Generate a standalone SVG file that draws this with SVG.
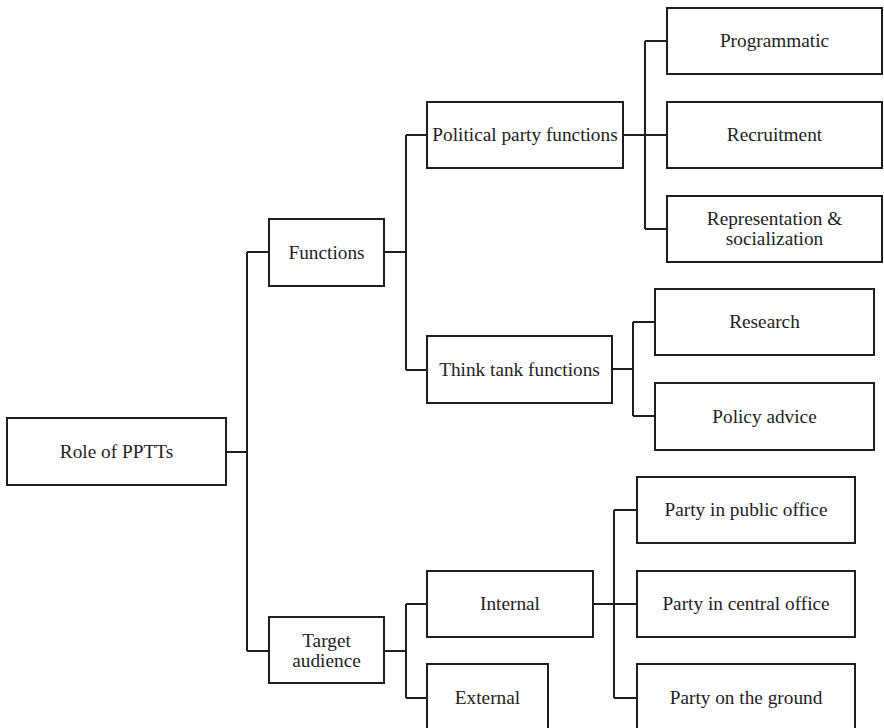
<svg xmlns="http://www.w3.org/2000/svg" width="884" height="728" viewBox="0 0 884 728">
  <style>
    .box { fill: #ffffff; stroke: #1e1e1e; stroke-width: 2; }
    .lbl { font-family: "Liberation Serif", "Times New Roman", serif; font-size: 19.3px; fill: #222222; text-anchor: middle; }
    .conn { fill: none; stroke: #1e1e1e; stroke-width: 2; }
  </style>
  <rect x="0" y="0" width="884" height="728" fill="#ffffff"/>

  <g id="connectors">
    <path class="conn" d="M226,452 H247 M247,252 V651 M247,252 H269 M247,651 H269"/>
    <path class="conn" d="M384,252 H406 M406,135 V370 M406,135 H427 M406,370 H427"/>
    <path class="conn" d="M623,135 H667 M645,41 V229 M645,41 H667 M645,229 H667"/>
    <path class="conn" d="M612,369 H633 M633,322 V416 M633,322 H655 M633,416 H655"/>
    <path class="conn" d="M384,651 H406 M406,604 V698 M406,604 H427 M406,698 H427"/>
    <path class="conn" d="M593,604 H637 M614,510 V698 M614,510 H637 M614,698 H637"/>
  </g>

  <g id="role">
    <rect class="box" x="7" y="418" width="219" height="67"/>
    <text class="lbl" x="116.5" y="458">Role of PPTTs</text>
  </g>
  <g id="functions">
    <rect class="box" x="269" y="219" width="115" height="67"/>
    <text class="lbl" x="326.5" y="258.5">Functions</text>
  </g>
  <g id="target">
    <rect class="box" x="269" y="617" width="115" height="66"/>
    <text class="lbl" x="326.5" y="647">Target</text>
    <text class="lbl" x="326.5" y="667">audience</text>
  </g>
  <g id="political">
    <rect class="box" x="427" y="102" width="196" height="66"/>
    <text class="lbl" x="525" y="141">Political party functions</text>
  </g>
  <g id="thinktank">
    <rect class="box" x="427" y="336" width="185" height="67"/>
    <text class="lbl" x="519.5" y="375.5">Think tank functions</text>
  </g>
  <g id="internal">
    <rect class="box" x="427" y="571" width="166" height="66"/>
    <text class="lbl" x="510" y="610">Internal</text>
  </g>
  <g id="external">
    <rect class="box" x="427" y="664" width="121" height="72"/>
    <text class="lbl" x="487.5" y="703.5">External</text>
  </g>
  <g id="programmatic">
    <rect class="box" x="667" y="8" width="215" height="66"/>
    <text class="lbl" x="774.5" y="47">Programmatic</text>
  </g>
  <g id="recruitment">
    <rect class="box" x="667" y="102" width="215" height="66"/>
    <text class="lbl" x="774.5" y="141">Recruitment</text>
  </g>
  <g id="representation">
    <rect class="box" x="667" y="196" width="215" height="66"/>
    <text class="lbl" x="774.5" y="225">Representation &amp;</text>
    <text class="lbl" x="774.5" y="245">socialization</text>
  </g>
  <g id="research">
    <rect class="box" x="655" y="289" width="219" height="66"/>
    <text class="lbl" x="764.5" y="328">Research</text>
  </g>
  <g id="policy">
    <rect class="box" x="655" y="383" width="219" height="67"/>
    <text class="lbl" x="764.5" y="422.5">Policy advice</text>
  </g>
  <g id="public">
    <rect class="box" x="637" y="477" width="218" height="66"/>
    <text class="lbl" x="746" y="516">Party in public office</text>
  </g>
  <g id="central">
    <rect class="box" x="637" y="571" width="218" height="66"/>
    <text class="lbl" x="746" y="610">Party in central office</text>
  </g>
  <g id="ground">
    <rect class="box" x="637" y="664" width="218" height="72"/>
    <text class="lbl" x="746" y="703.5">Party on the ground</text>
  </g>
</svg>
